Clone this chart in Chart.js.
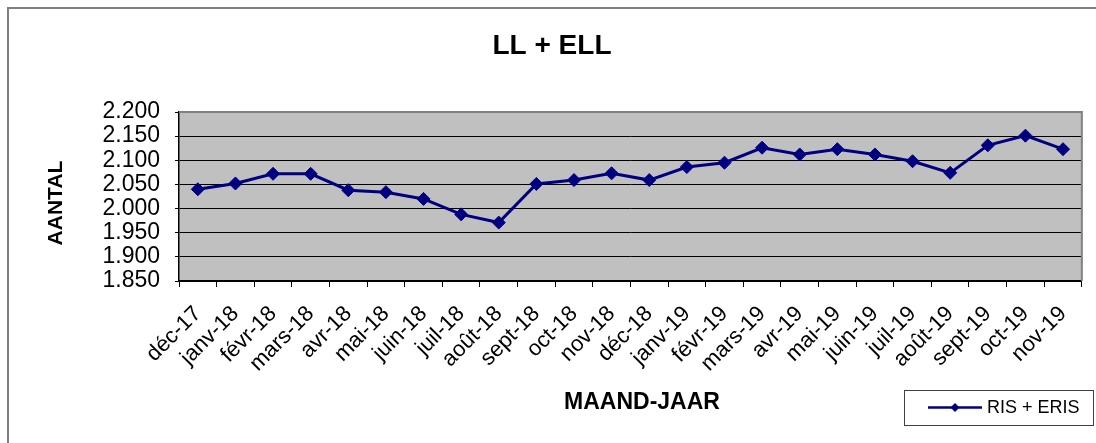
<!DOCTYPE html>
<html><head><meta charset="utf-8">
<script src="https://cdn.jsdelivr.net/npm/chart.js@4.4.1/dist/chart.umd.min.js"></script>
<style>html,body{margin:0;padding:0;background:#fff;overflow:hidden}#wrap{width:1096px;height:443px;position:relative}</style>
</head><body><div id="wrap"><canvas id="c" width="1096" height="443"></canvas></div>
<script>
const categories = ['déc-17','janv-18','févr-18','mars-18','avr-18','mai-18','juin-18','juil-18','août-18','sept-18','oct-18','nov-18','déc-18','janv-19','févr-19','mars-19','avr-19','mai-19','juin-19','juil-19','août-19','sept-19','oct-19','nov-19'];
const seriesName = 'RIS + ERIS';
const seriesValues = [2040,2052,2072,2072,2038,2034,2020,1988,1971,2051,2059,2073,2059,2086,2095,2126,2112,2123,2112,2098,2074,2131,2151,2123];
const yTickValues = [1850,1900,1950,2000,2050,2100,2150,2200];
const chartTitle = 'LL + ELL';
const yAxisTitle = 'AANTAL';
const xAxisTitle = 'MAAND-JAAR';

const FONT = '"Liberation Sans", Arial, Helvetica, sans-serif';
const NAVY = '#000080';
Chart.defaults.font.family = FONT;
Chart.defaults.color = '#000';

const fmt = v => String(v).replace(/\B(?=(\d{3})+(?!\d))/g, '.');

const decor = {
  id: 'decor',
  beforeDraw(chart) {
    const {ctx, chartArea: a} = chart;
    ctx.save();
    ctx.fillStyle = '#fff';
    ctx.fillRect(0, 0, chart.width, chart.height);
    ctx.fillStyle = '#C0C0C0';
    ctx.fillRect(a.left, a.top, a.right - a.left, a.bottom - a.top);
    ctx.restore();
  },
  beforeDatasetsDraw(chart) {
    const {ctx, chartArea: a} = chart;
    ctx.save();
    ctx.strokeStyle = '#808080';
    ctx.lineWidth = 2;
    ctx.beginPath();
    ctx.moveTo(a.left, a.top);
    ctx.lineTo(a.right, a.top);
    ctx.lineTo(a.right, a.bottom);
    ctx.stroke();
    ctx.restore();
  },
  afterDraw(chart) {
    const {ctx} = chart;
    ctx.save();
    ctx.strokeStyle = '#808080';
    ctx.lineWidth = 2;
    ctx.strokeRect(8, 8, chart.width + 20, chart.height + 20);
    ctx.fillStyle = '#000';
    ctx.textAlign = 'center';
    ctx.textBaseline = 'middle';
    ctx.font = 'bold 28px ' + FONT;
    ctx.fillText(chartTitle, 552, 46);
    ctx.font = 'bold 23px ' + FONT;
    ctx.fillText(xAxisTitle, 642, 403);
    ctx.save();
    ctx.translate(56, 203);
    ctx.rotate(-Math.PI / 2);
    ctx.font = 'bold 21px ' + FONT;
    ctx.fillText(yAxisTitle, 0, 0);
    ctx.restore();
    ctx.strokeStyle = '#404040';
    ctx.lineWidth = 1;
    ctx.strokeRect(904.5, 390.5, 189, 35);
    ctx.strokeStyle = NAVY;
    ctx.lineWidth = 2.5;
    ctx.beginPath();
    ctx.moveTo(928, 407.5);
    ctx.lineTo(982, 407.5);
    ctx.stroke();
    ctx.fillStyle = NAVY;
    ctx.beginPath();
    ctx.moveTo(955, 403); ctx.lineTo(959.5, 407.5); ctx.lineTo(955, 412); ctx.lineTo(950.5, 407.5);
    ctx.closePath();
    ctx.fill();
    ctx.fillStyle = '#000';
    ctx.textAlign = 'left';
    ctx.font = '18px ' + FONT;
    ctx.fillText(seriesName, 987, 408);
    ctx.restore();
  }
};

new Chart(document.getElementById('c'), {
  type: 'line',
  data: {
    labels: categories,
    datasets: [{
      label: seriesName,
      data: seriesValues,
      borderColor: NAVY,
      backgroundColor: NAVY,
      borderWidth: 3,
      tension: 0,
      pointStyle: 'rectRot',
      pointRadius: 6.5,
      pointBackgroundColor: NAVY,
      pointBorderColor: NAVY,
      pointBorderWidth: 1,
      clip: false
    }]
  },
  options: {
    responsive: false,
    devicePixelRatio: 1,
    animation: false,
    layout: {padding: {top: 112, right: 14, bottom: 0, left: 0}},
    plugins: {legend: {display: false}, title: {display: false}, tooltip: {enabled: false}},
    scales: {
      x: {
        offset: true,
        grid: {offset: true, drawOnChartArea: false, drawTicks: true, tickLength: 6, tickColor: '#000', color: '#000'},
        border: {color: '#000', width: 1.5},
        ticks: {autoSkip: false, maxRotation: 45, minRotation: 45, font: {size: 22}, color: '#000', padding: 14},
        afterFit(s) { s.height = 162; }
      },
      y: {
        min: 1850, max: 2200,
        afterBuildTicks(s) { s.ticks = yTickValues.map(v => ({value: v})); },
        grid: {
          color: c => (c.tick && c.tick.value === 2200) ? 'rgba(0,0,0,0)' : '#000',
          tickColor: '#000', tickLength: 4, lineWidth: 1
        },
        border: {color: '#000', width: 1.5},
        ticks: {autoSkip: false, font: {size: 23}, color: '#000', padding: 15, callback: v => fmt(v)},
        afterFit(s) { s.width = 179; }
      }
    }
  },
  plugins: [decor]
});
</script>
</body></html>
